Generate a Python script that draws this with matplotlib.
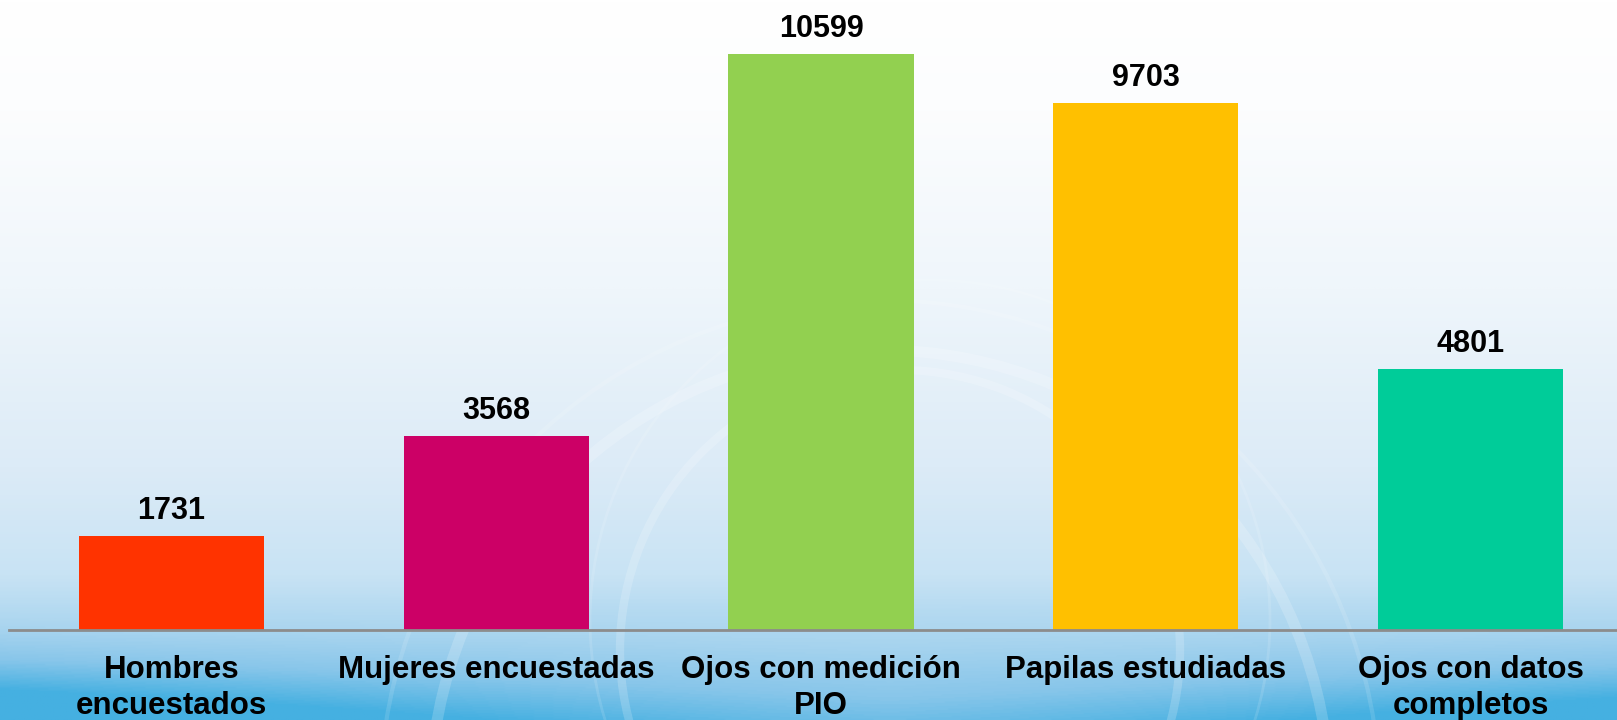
import numpy as np
import matplotlib.pyplot as plt
from matplotlib.colors import LinearSegmentedColormap
from matplotlib.patches import Circle

categorias = ["Hombres\nencuestados", "Mujeres encuestadas", "Ojos con medición\nPIO",
              "Papilas estudiadas", "Ojos con datos\ncompletos"]
valores = [1731, 3568, 10599, 9703, 4801]
colores = ["#FF3300", "#CC0066", "#92D050", "#FFC000", "#00CC99"]

plt.rcParams["font.family"] = ["Liberation Sans", "DejaVu Sans"]

W, H = 1617, 720
fig = plt.figure(figsize=(W / 100, H / 100), dpi=100)

# fondo degradado tipo diapositiva
bg = fig.add_axes([0, 0, 1, 1], zorder=0)
bg_cmap = LinearSegmentedColormap.from_list("fondo", [
    (0.0, "#FFFFFF"), (0.15, "#FCFDFE"), (0.4, "#EFF6FB"), (0.65, "#DCEBF7"),
    (0.8, "#C8E3F4"), (0.88, "#AAD5EF"), (0.94, "#88C6EA"), (1.0, "#45B0E1")])
yy = np.linspace(0, 1, 500)[:, None]
xx = np.linspace(0, 1, 500)[None, :]
edge = np.clip((yy - 0.8) / 0.2, 0, 1) ** 2 * (np.abs(xx - 0.55) * 2) ** 1.5
grad = yy + 0.05 * edge - 0.04 * np.clip((yy - 0.85) / 0.15, 0, 1) * (1 - np.abs(xx - 0.55) * 2)
bg.imshow(np.clip(grad, 0, 1), cmap=bg_cmap, aspect="auto", extent=[0, W, H, 0], vmin=0, vmax=1)
for (cx, cy, r, lw, a) in [(880, 800, 450, 8, 0.18), (900, 650, 280, 6, 0.18),
                           (880, 800, 500, 3, 0.12), (930, 620, 340, 2, 0.12)]:
    bg.add_patch(Circle((cx, cy), r, fill=False, ec="white", lw=lw, alpha=a))
bg.set_xlim(0, W)
bg.set_ylim(H, 0)
bg.axis("off")

# grafico
ax = fig.add_axes([9 / W, 90 / H, 1624 / W, 630 / H], zorder=1)
ax.patch.set_alpha(0)
x = np.arange(len(categorias))
bars = ax.bar(x, valores, width=0.57, color=colores, zorder=2)
ax.set_xlim(-0.5, 4.5)
ax.set_ylim(0, 11590)

for bar, val in zip(bars, valores):
    ax.annotate(str(val), (bar.get_x() + bar.get_width() / 2, bar.get_height()),
                xytext=(0, 7), textcoords="offset points",
                ha="center", va="bottom", fontsize=22, fontweight="bold")

ax.set_xticks(x)
ax.set_xticklabels(categorias, fontsize=22.5, fontweight="bold", linespacing=1.25)
ax.tick_params(axis="x", length=0, pad=18)
ax.set_yticks([])
for s in ["top", "right", "left"]:
    ax.spines[s].set_visible(False)
ax.spines["bottom"].set_color("#8C8C8C")
ax.spines["bottom"].set_linewidth(2)

fig.savefig("out.png", dpi=100)
